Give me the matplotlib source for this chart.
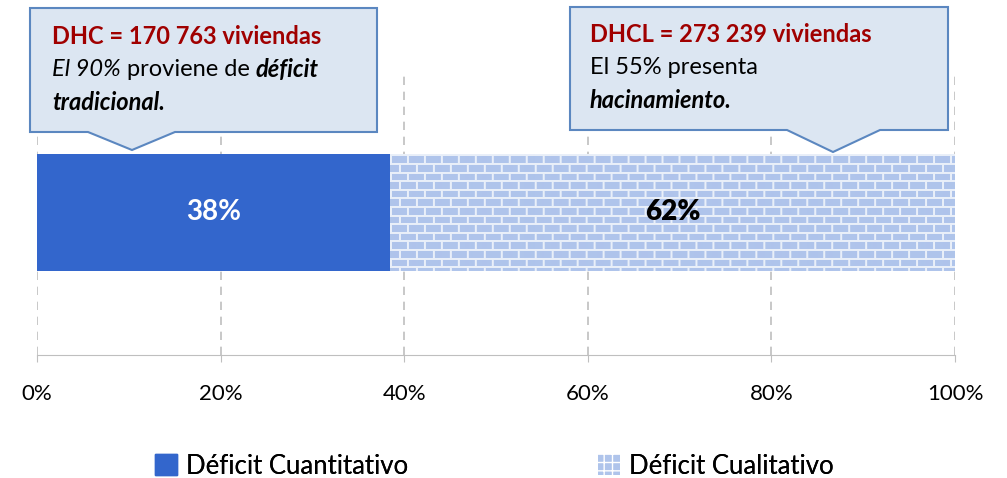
import matplotlib.pyplot as plt
import numpy as np
from matplotlib.patches import Polygon, Patch
from matplotlib import transforms

plt.rcParams['font.family'] = ['Lato', 'DejaVu Sans']

# data
categories = ["Déficit Cuantitativo", "Déficit Cualitativo"]
viviendas = [170763, 273239]
bar_labels = ["38%", "62%"]
xticks = [0, 20, 40, 60, 80, 100]
xtick_labels = ["0%", "20%", "40%", "60%", "80%", "100%"]

BLUE = '#3366CC'
BRICK = '#AFC4EB'
MORTAR = '#E9EFF9'
RED = '#A00000'
BOX_FACE = '#DCE6F2'
BOX_EDGE = '#5B87C0'
GRID = '#BFBFBF'

pct = np.array(viviendas) / sum(viviendas) * 100

fig = plt.figure(figsize=(10.07, 4.78), dpi=100)
ax = fig.add_axes([37/1007, 1-355/478, 918/1007, 285/478])
ax.set_xlim(0, 100)
ax.set_ylim(-1, 1)
BAR_H = 0.82

b1 = ax.barh(0, pct[0], height=BAR_H, color=BLUE, zorder=3)
b2 = ax.barh(0, pct[1], left=pct[0], height=BAR_H, color=BRICK, zorder=3)

# brick texture on the second bar
W, H = 566, 117
brick = np.array([int(BRICK[i:i+2], 16) for i in (1, 3, 5)]) / 255
mort = np.array([int(MORTAR[i:i+2], 16) for i in (1, 3, 5)]) / 255
tex = np.ones((H, W, 3)) * brick
row_h, brick_w = 8.6, 17
for yy in range(H):
    r = int(yy // row_h)
    if yy % row_h < 2:
        tex[yy, :] = mort
        continue
    off = 0 if r % 2 == 0 else brick_w / 2
    for xx in range(W):
        if (xx + off) % brick_w < 2:
            tex[yy, xx] = mort
im = ax.imshow(tex, extent=[pct[0], 100, -BAR_H/2, BAR_H/2], aspect='auto',
               interpolation='bilinear', zorder=3.5)
im.set_clip_path(b2.patches[0])

ax.text(pct[0]/2, 0, bar_labels[0], color='white', fontsize=20, fontweight='bold',
        fontstyle='normal', ha='center', va='center', zorder=5)
ax.text(pct[0] + pct[1]/2, 0, bar_labels[1], color='black', fontsize=20, fontweight='heavy',
        fontstyle='normal', ha='center', va='center', zorder=5)

# axes styling
for s in ['top', 'right', 'left']:
    ax.spines[s].set_visible(False)
ax.spines['bottom'].set_color(GRID)
ax.set_yticks([])
ax.set_xticks(xticks)
ax.set_xticklabels(xtick_labels, fontsize=16)
ax.tick_params(axis='x', colors=GRID, labelcolor='black', length=5, pad=16)
ax.grid(axis='x', color=GRID, linestyle=(0, (5, 4)), linewidth=1.2, zorder=0)

# callout boxes
def callout(x0, x1, y0, y1, bx0, bx1, tip):
    pts = [(x0, y0), (x0, y1), (bx0, y1), tip, (bx1, y1), (x1, y1), (x1, y0)]
    ax.add_patch(Polygon(pts, closed=True, facecolor=BOX_FACE, edgecolor=BOX_EDGE,
                         linewidth=1.5, clip_on=False, zorder=6))

def px_x(p):
    return (p - 37) / 918 * 100

def px_y(p):
    return 1 - (p - 70) / 285 * 2

callout(px_x(30), px_x(377), px_y(8), px_y(132), px_x(88), px_x(175), (px_x(132), px_y(150)))
callout(px_x(570), px_x(948), px_y(7), px_y(130), px_x(787), px_x(880), (px_x(833), px_y(152)))

renderer = fig.canvas.get_renderer()

def rich_line(x, y, pieces, size=17):
    trans = fig.transFigure
    dx = 0
    for txt, style, weight, color in pieces:
        t = fig.text(x, y, txt, fontsize=size, fontstyle=style, fontweight=weight, color=color,
                     va='center', ha='left', zorder=7,
                     transform=transforms.offset_copy(trans, fig=fig, x=dx, y=0, units='dots'))
        dx += t.get_window_extent(renderer).width

fx = lambda p: p / 1007
fy = lambda p: 1 - p / 478

rich_line(fx(52), fy(36), [("DHC = 170 763 viviendas", 'normal', 'bold', RED)])
rich_line(fx(52), fy(70), [("El 90%", 'italic', 'normal', 'black'),
                           (" proviene de ", 'normal', 'normal', 'black'),
                           ("déficit", 'italic', 'bold', 'black')])
rich_line(fx(52), fy(103), [("tradicional.", 'italic', 'bold', 'black')])

rich_line(fx(590), fy(35), [("DHCL = 273 239 viviendas", 'normal', 'bold', RED)])
rich_line(fx(590), fy(68), [("El 55% presenta", 'normal', 'normal', 'black')])
rich_line(fx(590), fy(101), [("hacinamiento.", 'italic', 'bold', 'black')])

# legend, one entry each
handles = [Patch(facecolor=BLUE, edgecolor=BLUE),
           Patch(facecolor=BRICK, edgecolor='white', hatch='++', linewidth=0)]
for h, lab, x in zip(handles, categories, [155, 598]):
    leg = fig.legend([h], [lab], loc='center left', bbox_to_anchor=(x/1007, 1-466/478),
                     frameon=False, fontsize=18.5, handlelength=0.85, handleheight=0.85,
                     handletextpad=0.35, borderpad=0, borderaxespad=0)
    fig.add_artist(leg)

fig.savefig('out.png', dpi=100)
